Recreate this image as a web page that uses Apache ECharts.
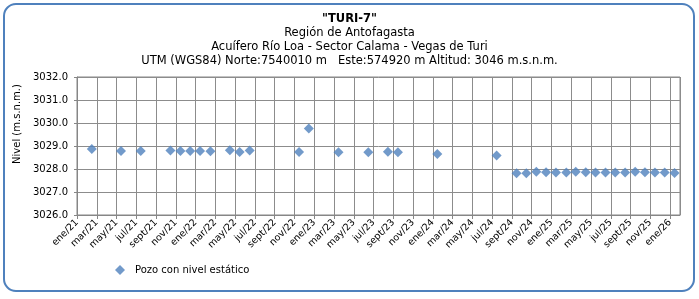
<!DOCTYPE html>
<html>
<head>
<meta charset="utf-8">
<script src="https://cdn.jsdelivr.net/npm/echarts@6/dist/echarts.min.js"></script>
<style>
html, body { margin: 0; padding: 0; background: #fff; }
#chart { width: 699px; height: 299px; }
</style>
</head>
<body>
<div id="chart"></div>
<script>
// fechas de medición y nivel estático (m.s.n.m.)
var fechas = ['2021-02-15','2021-05-15','2021-07-15','2021-10-15','2021-11-15','2021-12-15',
    '2022-01-15','2022-02-15','2022-04-15','2022-05-15','2022-06-15','2022-11-15','2022-12-15',
    '2023-03-15','2023-06-15','2023-08-15','2023-09-15','2024-01-15','2024-07-15',
    '2024-09-15','2024-10-15','2024-11-15','2024-12-15','2025-01-15','2025-02-15','2025-03-15',
    '2025-04-15','2025-05-15','2025-06-15','2025-07-15','2025-08-15','2025-09-15','2025-10-15',
    '2025-11-15','2025-12-15','2026-01-15'];
var niveles = [3028.87,3028.78,3028.78,3028.80,3028.78,3028.78,
    3028.78,3028.77,3028.82,3028.74,3028.80,3028.74,3029.76,
    3028.73,3028.73,3028.75,3028.73,3028.65,3028.59,
    3027.81,3027.81,3027.88,3027.86,3027.85,3027.85,3027.88,
    3027.86,3027.85,3027.85,3027.85,3027.85,3027.88,3027.86,
    3027.85,3027.85,3027.83];
var meses = ['ene','feb','mar','abr','may','jun','jul','ago','sept','oct','nov','dic'];
var anioInicio = 2021;

var titulos = ['"TURI-7"', 'Región de Antofagasta', 'Acuífero Río Loa - Sector Calama - Vegas de Turi',
    'UTM (WGS84) Norte:7540010 m   Este:574920 m Altitud: 3046 m.s.n.m.'];

var fuente = 'DejaVu Sans';

// fecha -> meses desde ene/21
function mesIndice(f) {
    var p = f.split('-');
    var y = +p[0], m = +p[1], d = +p[2];
    var dias = new Date(y, m, 0).getDate();
    return (y - anioInicio) * 12 + (m - 1) + (d - 1) / dias;
}

var puntos = [];
for (var i = 0; i < fechas.length; i++) {
    puntos.push([mesIndice(fechas[i]), niveles[i]]);
}

var chart = echarts.init(document.getElementById('chart'));

var titleList = [];
for (var t = 0; t < titulos.length; t++) {
    titleList.push({
        text: titulos[t],
        left: 'center',
        top: 13 + t * 14,
        padding: 0,
        textStyle: {
            fontFamily: fuente,
            fontSize: t === 0 ? 11.5 : 11.5,
            fontWeight: t === 0 ? 'bold' : 'normal',
            color: '#000'
        }
    });
}

var option = {
    backgroundColor: '#fff',
    animation: false,
    title: titleList,
    grid: {
        left: 77,
        right: 19,
        top: 77,
        bottom: 84,
        show: true,
        borderColor: '#868686',
        borderWidth: 1
    },
    legend: {
        left: 115,
        top: 265,
        padding: 0,
        itemWidth: 10,
        itemHeight: 10,
        itemGap: 10,
        textStyle: { fontFamily: fuente, fontSize: 10, color: '#000', padding: [0, 0, 0, 5] },
        data: [{ name: 'Pozo con nivel estático', icon: 'diamond' }]
    },
    xAxis: {
        type: 'value',
        min: 0,
        max: 61,
        interval: 2,
        axisLine: { lineStyle: { color: '#868686' } },
        axisTick: { show: true, length: 4, lineStyle: { color: '#868686' } },
        splitLine: { show: true, lineStyle: { color: '#8c8c8c' } },
        axisLabel: {
            rotate: 45,
            margin: 6,
            showMaxLabel: false,
            fontFamily: fuente,
            fontSize: 9.5,
            color: '#000',
            formatter: function (v) {
                if (v % 2 !== 0 || v > 60) return '';
                return meses[v % 12] + '/' + (anioInicio - 2000 + Math.floor(v / 12));
            }
        }
    },
    yAxis: {
        type: 'value',
        min: 3026,
        max: 3032,
        interval: 1,
        axisLine: { show: true, lineStyle: { color: '#868686' } },
        axisTick: { show: true, length: 3, lineStyle: { color: '#868686' } },
        splitLine: { show: true, lineStyle: { color: '#8c8c8c' } },
        axisLabel: {
            margin: 9,
            fontFamily: fuente,
            fontSize: 10,
            color: '#000',
            formatter: function (v) { return v.toFixed(1); }
        }
    },
    graphic: [
        {
            type: 'rect',
            shape: { x: 4, y: 4, width: 690, height: 287, r: 12 },
            style: { fill: 'none', stroke: '#4f81bd', lineWidth: 2 },
            z: -1
        },
        {
            type: 'text',
            x: 17,
            y: 124,
            rotation: Math.PI / 2,
            style: {
                text: 'Nivel (m.s.n.m.)',
                fontFamily: fuente,
                fontSize: 10,
                fill: '#000',
                align: 'center',
                verticalAlign: 'middle'
            }
        }
    ],
    series: [
        {
            name: 'Pozo con nivel estático',
            type: 'scatter',
            symbol: 'diamond',
            symbolSize: 10,
            itemStyle: { color: '#4f81bd' },
            data: puntos
        }
    ]
};
chart.setOption(option);
</script>
</body>
</html>
